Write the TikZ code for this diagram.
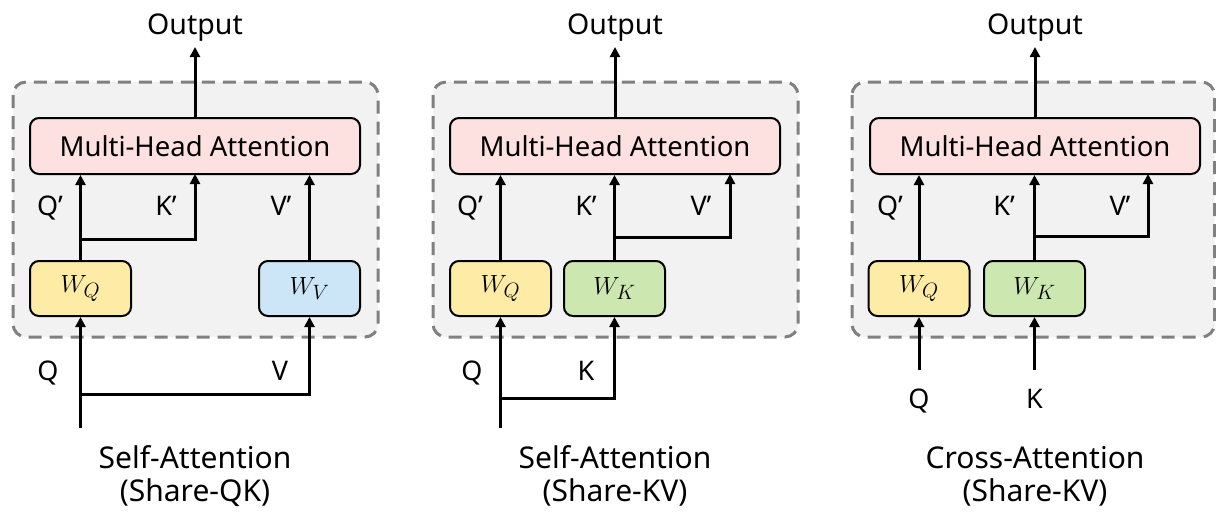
\documentclass[tikz,border=0pt]{standalone}
\usepackage{fontspec}
\setmainfont{Noto Sans}
\usetikzlibrary{arrows.meta,calc}
\definecolor{bggray}{HTML}{F2F2F2}
\definecolor{dashgray}{HTML}{808080}
\definecolor{mhapink}{HTML}{FDE0E0}
\definecolor{wqyellow}{HTML}{FDEBA6}
\definecolor{wvblue}{HTML}{CCE5F7}
\definecolor{wkgreen}{HTML}{CDE7B0}
\tikzset{
  lbl/.style={font=\fontsize{27}{30}\selectfont, anchor=base, inner sep=0pt},
  outlbl/.style={font=\fontsize{28.5}{30}\selectfont, anchor=base, inner sep=0pt},
  ttl/.style={font=\fontsize{30}{32}\selectfont, anchor=base, inner sep=0pt},
  mhabox/.style={draw=black, line width=2pt, rounded corners=9pt, fill=mhapink,
    minimum width=330pt, minimum height=56pt, inner sep=0pt, font=\fontsize{27.5}{30}\selectfont},
  wbox/.style={draw=black, line width=2pt, rounded corners=9pt,
    minimum width=101pt, minimum height=55pt, inner sep=0pt, font=\fontsize{32}{34}\selectfont},
  outer/.style={draw=dashgray, fill=bggray, line width=3pt, dash pattern=on 13pt off 8pt, rounded corners=13pt},
  arr/.style={line width=3pt, -{Triangle[width=10pt,length=10pt]}},
}
\begin{document}
\begin{tikzpicture}[x=1pt,y=-1pt]
\useasboundingbox (0,0) rectangle (1216,515);

% ---------- Panel 1 ----------
\begin{scope}
\draw[outer] (13,82) rectangle (378,337);
\node[mhabox] (mha1) at (195,146) {Multi-Head Attention};
\node[wbox, fill=wqyellow] (wq1) at (80.5,288.5) {$W_Q$};
\node[wbox, fill=wvblue] (wv1) at (309.5,288.5) {$W_V$};
\node[outlbl] (out1) at (195,34) {Output};
\coordinate (outa1) at (195,47);
\draw[arr] (mha1.north) -- (outa1);
\coordinate (br1) at (80.5,239);
\draw[arr] (wq1.north) -- (wq1.north |- mha1.south);
\draw[arr] (br1) -| (195,174);
\draw[arr] (wv1.north) -- (wv1.north |- mha1.south);
\node[lbl] (qp1) at (50,215) {Q’};
\node[lbl] (kp1) at (166,215) {K’};
\node[lbl] (vp1) at (281,215) {V’};
\coordinate (in1) at (80.5,428);
\coordinate (ib1) at (80.5,394);
\draw[arr] (in1) -- (wq1.south);
\draw[arr] (ib1) -| (wv1.south);
\node[lbl] (q1) at (48,380) {Q};
\node[lbl] (v1) at (280,380) {V};
\node[ttl] (t1a) at (195,468) {Self-Attention};
\node[ttl] (t1b) at (195,501) {(Share-QK)};
\end{scope}

% ---------- Panel 2 ----------
\begin{scope}[xshift=420pt]
\draw[outer] (13,82) rectangle (378,337);
\node[mhabox] (mha2) at (195,146) {Multi-Head Attention};
\node[wbox, fill=wqyellow] (wq2) at (80.5,288.5) {$W_Q$};
\node[wbox, fill=wkgreen] (wk2) at (194.5,288.5) {$W_K$};
\node[outlbl] (out2) at (195,34) {Output};
\coordinate (outa2) at (195,47);
\draw[arr] (mha2.north) -- (outa2);
\draw[arr] (wq2.north) -- (wq2.north |- mha2.south);
\draw[arr] (wk2.north) -- (wk2.north |- mha2.south);
\coordinate (br2) at (194.5,237);
\draw[arr] (br2) -| (310,174);
\node[lbl] (qp2) at (50,215) {Q’};
\node[lbl] (kp2) at (166,215) {K’};
\node[lbl] (vp2) at (281,215) {V’};
\coordinate (in2) at (80.5,428);
\coordinate (ib2) at (80.5,398);
\draw[arr] (in2) -- (wq2.south);
\draw[arr] (ib2) -| (wk2.south);
\node[lbl] (q2) at (52,380) {Q};
\node[lbl] (k2) at (166,380) {K};
\node[ttl] (t2a) at (195,468) {Self-Attention};
\node[ttl] (t2b) at (195,501) {(Share-KV)};
\end{scope}

% ---------- Panel 3 ----------
\begin{scope}[xshift=838pt]
\draw[outer] (14,82) rectangle (376.5,337);
\node[mhabox] (mha3) at (197,146) {Multi-Head Attention};
\node[wbox, fill=wqyellow] (wq3) at (81,288.5) {$W_Q$};
\node[wbox, fill=wkgreen] (wk3) at (196.5,288.5) {$W_K$};
\node[outlbl] (out3) at (197,34) {Output};
\coordinate (outa3) at (197,47);
\draw[arr] (mha3.north) -- (outa3);
\draw[arr] (wq3.north) -- (wq3.north |- mha3.south);
\draw[arr] (wk3.north) -- (wk3.north |- mha3.south);
\coordinate (br3) at (196.5,236);
\draw[arr] (br3) -| (310,174);
\node[lbl] (qp3) at (52,215) {Q’};
\node[lbl] (kp3) at (166,215) {K’};
\node[lbl] (vp3) at (282,215) {V’};
\coordinate (in3) at (81,370);
\coordinate (ik3) at (196.5,370);
\draw[arr] (in3) -- (wq3.south);
\draw[arr] (ik3) -- (wk3.south);
\node[lbl] (q3) at (81,408) {Q};
\node[lbl] (k3) at (196.5,408) {K};
\node[ttl] (t3a) at (197,468) {Cross-Attention};
\node[ttl] (t3b) at (197,501) {(Share-KV)};
\end{scope}
\end{tikzpicture}
\end{document}
